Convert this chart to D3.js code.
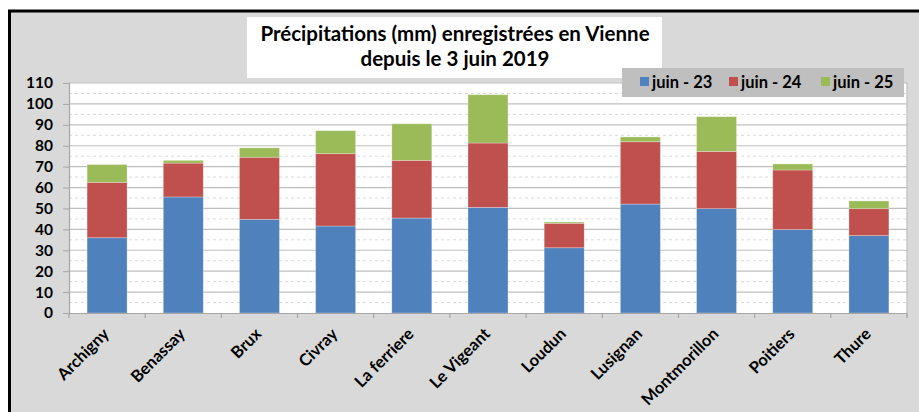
<!DOCTYPE html>
<html><head><meta charset="utf-8">
<script src="https://cdn.jsdelivr.net/npm/d3@7"></script>
<style>body{margin:0;background:#fff}svg{display:block}text{font-family:Lato,"Open Sans",sans-serif;font-weight:bold}</style>
</head><body><svg id="c" width="919" height="412"></svg>
<script>
const categories = ["Archigny","Benassay","Brux","Civray","La ferriere","Le Vigeant","Loudun","Lusignan","Montmorillon","Poitiers","Thure"];
const seriesNames = ["juin - 23","juin - 24","juin - 25"];
const juin23 = [36.0,55.5,44.8,41.6,45.4,50.5,31.2,52.1,49.9,39.9,37.0];
const juin24 = [26.5,16.2,29.7,34.6,27.6,30.8,11.7,29.8,27.4,28.5,12.9];
const juin25 = [8.5,1.3,4.5,11.0,17.5,23.1,0.6,2.3,16.6,2.9,3.7];
const yTicks = [0,10,20,30,40,50,60,70,80,90,100,110];
const titleLines = ["Précipitations (mm) enregistrées en Vienne","depuis le 3 juin 2019"];
const colors = ["#4f81bd","#c0504d","#9bbb59"];

const svg = d3.select("#c");
svg.append("rect").attr("x",9.5).attr("y",11).attr("width",930).attr("height",420).attr("fill","#d9d9d9").attr("stroke","#000").attr("stroke-width",3);

const m = {l:69, r:907, t:83, b:313};
const x = d3.scaleBand().domain(categories).range([m.l,m.r]).paddingInner(0.475).paddingOuter(0.2375);
const y = d3.scaleLinear().domain([0,110]).range([m.b,m.t]);

svg.append("rect").attr("x",m.l).attr("y",m.t).attr("width",m.r-m.l).attr("height",m.b-m.t).attr("fill","#fff");

const minor = d3.range(5,110,10);
svg.append("g").selectAll("line").data(minor).join("line")
 .attr("x1",m.l).attr("x2",m.r).attr("y1",d=>y(d)).attr("y2",d=>y(d))
 .attr("stroke","#d9d9d9").attr("stroke-dasharray","3,3").attr("stroke-width",1);
svg.append("g").selectAll("line").data(yTicks.slice(1)).join("line")
 .attr("x1",m.l).attr("x2",m.r).attr("y1",d=>y(d)).attr("y2",d=>y(d))
 .attr("stroke","#bfbfbf").attr("stroke-width",1.2);

const table = categories.map((c,i)=>({cat:c, s0:juin23[i], s1:juin24[i], s2:juin25[i]}));
const stack = d3.stack().keys(["s0","s1","s2"])(table);
svg.append("g").selectAll("g").data(stack).join("g").attr("fill",(d,i)=>colors[i])
 .selectAll("rect").data(d=>d).join("rect")
 .attr("x",d=>x(d.data.cat)).attr("width",x.bandwidth())
 .attr("y",d=>y(d[1])).attr("height",d=>y(d[0])-y(d[1]))
 .attr("stroke","rgba(255,255,255,0.35)").attr("stroke-width",0.8);

svg.append("line").attr("x1",m.r).attr("x2",m.r).attr("y1",m.t).attr("y2",m.b+5).attr("stroke","#bfbfbf").attr("stroke-width",1.2);

const ya = svg.append("g").attr("transform",`translate(${m.l},0)`)
 .call(d3.axisLeft(y).tickValues(yTicks).tickSize(6).tickPadding(10));
ya.select(".domain").attr("stroke","#a6a6a6").attr("stroke-width",1.2);
ya.selectAll(".tick line").attr("stroke","#a6a6a6");
ya.selectAll("text").attr("font-size",15.5).attr("fill","#000").attr("font-family","Lato");

const xa = svg.append("g").attr("transform",`translate(0,${m.b})`)
 .call(d3.axisBottom(x).tickSize(0).tickPadding(0));
xa.select(".domain").attr("stroke","#a6a6a6").attr("stroke-width",1.2);
const step = x.step();
xa.selectAll(".bt").data(d3.range(categories.length+1)).join("line").attr("class","bt")
 .attr("x1",i=>m.l+i*step).attr("x2",i=>m.l+i*step).attr("y1",0).attr("y2",5).attr("stroke","#a6a6a6").attr("stroke-width",1.2);
xa.selectAll(".tick text").attr("font-size",16.5).attr("fill","#000").attr("font-family","Lato")
 .attr("text-anchor","end").attr("dy",0).attr("y",0)
 .attr("transform","translate(3,22) rotate(-45)");

svg.append("rect").attr("x",247).attr("y",17).attr("width",415).attr("height",61).attr("fill","#fff");
svg.append("g").selectAll("text").data(titleLines).join("text")
 .attr("x",455).attr("y",(d,i)=>41+i*25).attr("text-anchor","middle").attr("font-size",20.5).attr("fill","#000").text(d=>d);

svg.append("rect").attr("x",622).attr("y",68).attr("width",282).attr("height",29).attr("fill","#bfbfbf");
const lx = [640,729,821];
const lg = svg.append("g").selectAll("g").data(seriesNames).join("g").attr("transform",(d,i)=>`translate(${lx[i]},0)`);
lg.append("rect").attr("x",0).attr("y",77).attr("width",9).attr("height",9).attr("fill",(d,i)=>colors[i]);
lg.append("text").attr("x",12).attr("y",88).attr("font-size",16.5).attr("fill","#000").text(d=>d);
</script></body></html>
